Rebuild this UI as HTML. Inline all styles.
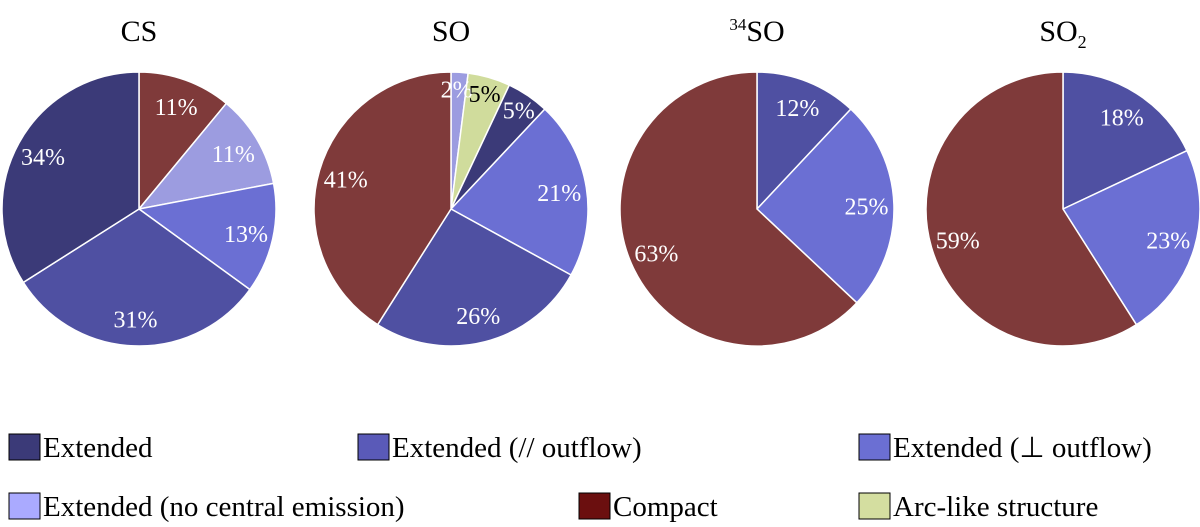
<!DOCTYPE html>
<html><head><meta charset="utf-8"><style>
body{margin:0;background:#fff;width:1200px;height:527px;overflow:hidden;font-family:"Liberation Serif",serif}
svg{display:block}
</style></head><body>
<svg id="chart" width="1200" height="527">
<g id="pies"></g>
<g id="labels"></g>
<g id="legend"></g>
</svg>
<script>
const categories=["Extended","Extended (// outflow)","Extended (\u22a5 outflow)","Extended (no central emission)","Compact","Arc-like structure"];
const pieColors=["#3b3a78","#4f50a2","#6b6fd3","#9c9ce0","#7f3a3a","#d0dc9c"];
const legendColors=["#3b3a78","#5a5ab8","#6b6fd3","#aaaaff","#6b0f0f","#d4dea0"];
const titles=["CS","SO","34SO","SO2"];
// slices clockwise from 12 o'clock: [categoryIndex, percent]
const csCats=[4,3,2,1,0];const csVals=[11,11,13,31,34];
const soCats=[3,5,0,2,1,4];const soVals=[2,5,5,21,26,41];
const so34Cats=[1,2,4];const so34Vals=[12,25,63];
const so2Cats=[1,2,4];const so2Vals=[18,23,59];
const pieCats=[csCats,soCats,so34Cats,so2Cats];
const pieVals=[csVals,soVals,so34Vals,so2Vals];
const centersX=[139,451,757,1063];const cy=209,R=137;
const NS="http://www.w3.org/2000/svg";
const pies=document.getElementById('pies');
const labels=document.getElementById('labels');
function mk(t,a,p){const e=document.createElementNS(NS,t);for(const k in a)e.setAttribute(k,a[k]);p.appendChild(e);return e;}
pieVals.forEach((vals,pi)=>{
  const cx=centersX[pi];
  const g=mk('g',{},pies);
  
  
  const tot=vals.reduce((a,b)=>a+b,0);
  let acc=0;
  vals.forEach((v,i)=>{
    const a0=acc/tot*2*Math.PI;acc+=v;const a1=acc/tot*2*Math.PI;
    const x0=cx+R*Math.sin(a0),y0=cy-R*Math.cos(a0),x1=cx+R*Math.sin(a1),y1=cy-R*Math.cos(a1);
    const large=(a1-a0)>Math.PI?1:0;
    const c=pieCats[pi][i];
    const p=mk('path',{d:`M${cx},${cy}L${x0},${y0}A${R},${R} 0 ${large} 1 ${x1},${y1}Z`,fill:pieColors[c],stroke:'#fff','stroke-width':1.5},g);
    
    
    let am=(a0+a1)/2;const lr=(v<8)?R*0.88:R*0.8;
    let dx=0; if(v<=2){dx=-2;}
    const t=mk('text',{x:cx+lr*Math.sin(am)+dx,y:cy-lr*Math.cos(am)+9,'text-anchor':'middle','font-size':24,fill:c===5?'#000':'#fff'},labels);
    t.textContent=v+'%';
    
    
  });
  const tt=mk('text',{x:cx,y:41,'text-anchor':'middle','font-size':30,fill:'#000'},g);
  
  
  if(titles[pi]==='34SO'){tt.innerHTML='<tspan font-size="17" dy="-11">34</tspan><tspan dy="11">SO</tspan>';}
  else if(titles[pi]==='SO2'){tt.innerHTML='SO<tspan font-size="18" dy="7">2</tspan>';}
  else tt.textContent=titles[pi];
});
const legX=[8,357,858,8,578,858],legY=[434,434,434,493,493,493];
const lg=document.getElementById('legend');
categories.forEach((c,i)=>{
  const r=mk('rect',{x:legX[i]+1,y:legY[i],width:31,height:26,fill:legendColors[i],stroke:'#000','stroke-width':1},lg);
  
  
  const t=mk('text',{x:legX[i]+35,y:legY[i]+23,'font-size':29,fill:'#000'},lg);
  t.textContent=c;
  
  
});
</script>
</body></html>
